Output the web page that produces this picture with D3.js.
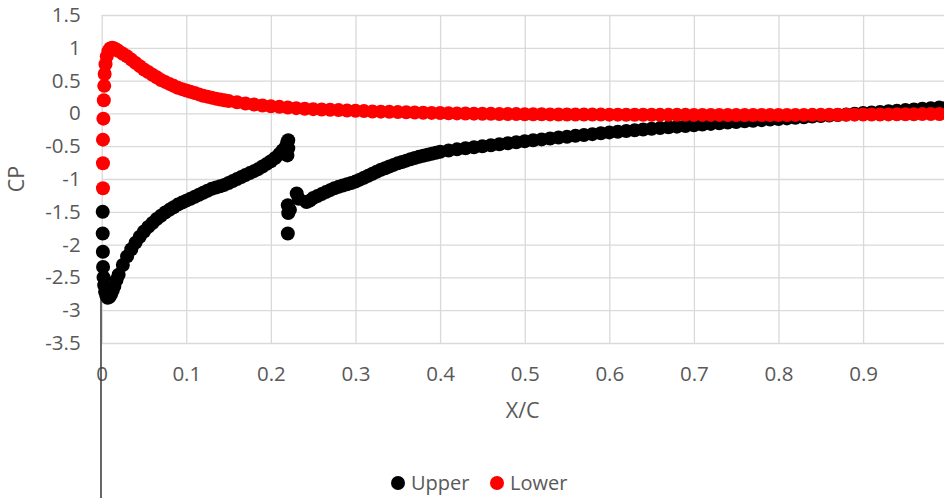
<!DOCTYPE html>
<html>
<head>
<meta charset="utf-8">
<script src="https://cdn.jsdelivr.net/npm/d3@7"></script>
<style>
  html, body { margin: 0; padding: 0; background: #fff; }
  svg { display: block; font-family: "Open Sans", "Noto Sans", sans-serif; }
</style>
</head>
<body>
<svg id="chart" width="944" height="498"></svg>
<script>
// Pressure coefficient along the chord: [x/c, Cp] for each surface
const upperPoints = [
  [0.0012,-1.50],[0.0012,-1.83],[0.0014,-2.11],[0.0016,-2.34],[0.0022,-2.50],[0.0030,-2.62],[0.0040,-2.72],[0.0055,-2.78],
  [0.0070,-2.81],[0.0090,-2.80],[0.011,-2.76],[0.013,-2.70],[0.015,-2.63],[0.0175,-2.54],[0.020,-2.46],[0.025,-2.31],
  [0.030,-2.18],[0.035,-2.07],[0.040,-1.97],[0.045,-1.88],[0.050,-1.80],[0.055,-1.73],[0.060,-1.67],[0.065,-1.61],
  [0.070,-1.56],[0.075,-1.51],[0.080,-1.47],[0.085,-1.43],[0.090,-1.39],[0.095,-1.36],[0.100,-1.33],[0.105,-1.30],
  [0.110,-1.27],[0.115,-1.24],[0.120,-1.21],[0.125,-1.18],[0.130,-1.15],[0.135,-1.13],[0.140,-1.11],[0.145,-1.09],
  [0.150,-1.06],[0.155,-1.03],[0.160,-1.00],[0.165,-0.97],[0.170,-0.94],[0.175,-0.91],[0.180,-0.88],[0.185,-0.85],
  [0.190,-0.81],[0.195,-0.77],[0.200,-0.73],[0.205,-0.68],[0.210,-0.62],[0.214,-0.56],[0.218,-0.50],[0.2195,-0.44],
  [0.2205,-0.41],[0.2205,-0.53],[0.2195,-0.64],
  [0.2200,-1.40],[0.2205,-1.52],[0.2200,-1.83],[0.2225,-1.47],[0.2305,-1.22],[0.2330,-1.30],[0.2420,-1.35],[0.2460,-1.33],
  [0.250,-1.29],[0.255,-1.26],[0.260,-1.23],[0.265,-1.20],[0.270,-1.17],[0.275,-1.14],[0.280,-1.12],[0.285,-1.10],
  [0.290,-1.08],[0.295,-1.06],[0.300,-1.04],[0.305,-1.01],[0.310,-0.98],[0.315,-0.95],[0.320,-0.92],[0.325,-0.89],
  [0.330,-0.86],[0.335,-0.835],[0.340,-0.81],[0.345,-0.785],[0.350,-0.76],[0.355,-0.74],[0.360,-0.72],[0.365,-0.70],
  [0.370,-0.68],[0.375,-0.66],[0.380,-0.645],[0.385,-0.63],[0.390,-0.615],[0.395,-0.60],[0.400,-0.585],[0.41,-0.565],
  [0.42,-0.548],[0.43,-0.531],[0.44,-0.515],[0.45,-0.50],[0.46,-0.485],[0.47,-0.47],[0.48,-0.455],[0.49,-0.44],
  [0.50,-0.425],[0.51,-0.41],[0.52,-0.396],[0.53,-0.382],[0.54,-0.368],[0.55,-0.355],[0.56,-0.342],[0.57,-0.329],
  [0.58,-0.316],[0.59,-0.303],[0.60,-0.29],[0.61,-0.279],[0.62,-0.268],[0.63,-0.257],[0.64,-0.246],[0.65,-0.235],
  [0.66,-0.224],[0.67,-0.213],[0.68,-0.202],[0.69,-0.191],[0.70,-0.18],[0.71,-0.17],[0.72,-0.16],[0.73,-0.15],
  [0.74,-0.14],[0.75,-0.13],[0.76,-0.121],[0.77,-0.112],[0.78,-0.103],[0.79,-0.094],[0.80,-0.085],[0.81,-0.076],
  [0.82,-0.067],[0.83,-0.058],[0.84,-0.049],[0.85,-0.04],[0.86,-0.032],[0.87,-0.024],[0.88,-0.015],[0.89,-0.005],
  [0.90,0.005],[0.91,0.014],[0.92,0.023],[0.93,0.032],[0.94,0.041],[0.95,0.05],[0.96,0.06],[0.97,0.07],
  [0.98,0.08],[0.99,0.09],[1.00,0.10]
];
const lowerPoints = [
  [0.0015,-1.14],[0.0015,-0.76],[0.0015,-0.40],[0.0020,-0.08],[0.0025,0.20],[0.0030,0.42],[0.0035,0.60],[0.0045,0.75],
  [0.006,0.87],[0.008,0.95],[0.010,0.99],[0.0125,1.00],[0.015,0.99],[0.0175,0.97],[0.020,0.95],[0.025,0.91],
  [0.030,0.87],[0.035,0.82],[0.040,0.77],[0.045,0.72],[0.050,0.67],[0.055,0.63],[0.060,0.59],[0.065,0.55],
  [0.070,0.51],[0.075,0.48],[0.080,0.45],[0.085,0.42],[0.090,0.39],[0.095,0.37],[0.100,0.35],[0.105,0.33],
  [0.110,0.31],[0.115,0.29],[0.120,0.27],[0.125,0.255],[0.130,0.24],[0.135,0.225],[0.140,0.21],[0.145,0.20],
  [0.150,0.19],[0.16,0.17],[0.17,0.15],[0.18,0.135],[0.19,0.12],[0.20,0.11],[0.21,0.10],[0.22,0.09],
  [0.23,0.08],[0.24,0.07],[0.25,0.065],[0.26,0.06],[0.27,0.055],[0.28,0.05],[0.29,0.045],[0.30,0.04],
  [0.31,0.035],[0.32,0.03],[0.33,0.027],[0.34,0.024],[0.35,0.02],[0.36,0.017],[0.37,0.014],[0.38,0.011],
  [0.39,0.008],[0.40,0.005],[0.41,0.002],[0.42,0.0],[0.43,-0.002],[0.44,-0.004],[0.45,-0.006],[0.46,-0.007],
  [0.47,-0.009],[0.48,-0.01],[0.49,-0.011],[0.50,-0.012],[0.51,-0.013],[0.52,-0.014],[0.53,-0.015],[0.54,-0.016],
  [0.55,-0.016],[0.56,-0.017],[0.57,-0.017],[0.58,-0.018],[0.59,-0.018],[0.60,-0.019],[0.61,-0.019],[0.62,-0.02],
  [0.63,-0.02],[0.64,-0.021],[0.65,-0.021],[0.66,-0.022],[0.67,-0.022],[0.68,-0.022],[0.69,-0.022],[0.70,-0.023],
  [0.71,-0.023],[0.72,-0.023],[0.73,-0.023],[0.74,-0.024],[0.75,-0.024],[0.76,-0.024],[0.77,-0.024],[0.78,-0.024],
  [0.79,-0.024],[0.80,-0.024],[0.81,-0.024],[0.82,-0.023],[0.83,-0.023],[0.84,-0.022],[0.85,-0.022],[0.86,-0.021],
  [0.87,-0.021],[0.88,-0.02],[0.89,-0.019],[0.90,-0.018],[0.91,-0.017],[0.92,-0.016],[0.93,-0.015],[0.94,-0.014],
  [0.95,-0.013],[0.96,-0.012],[0.97,-0.011],[0.98,-0.01],[0.99,-0.01],[1.00,-0.01]
];

const xTicks = [0,0.1,0.2,0.3,0.4,0.5,0.6,0.7,0.8,0.9,1];
const yTicks = [1.5,1,0.5,0,-0.5,-1,-1.5,-2,-2.5,-3,-3.5];
const seriesNames = ["Upper","Lower"];
const seriesColors = ["#000000","#ff0000"];

const svg = d3.select("#chart");
const W = 944, H = 498;
const plot = { left: 101.7, right: 947.7, top: 15, bottom: 343 };

const x = d3.scaleLinear().domain([0, 1]).range([plot.left, plot.right]);
const y = d3.scaleLinear().domain([-3.5, 1.5]).range([plot.bottom, plot.top]);

svg.append("rect").attr("width", W).attr("height", H).attr("fill", "#fff");

// gridlines
const gridColor = "#d9d9d9";
svg.append("g")
  .attr("transform", `translate(0,${plot.bottom})`)
  .call(d3.axisBottom(x).tickValues(xTicks).tickSize(-(plot.bottom - plot.top)).tickFormat(""))
  .call(g => g.select(".domain").remove())
  .call(g => g.selectAll("line").attr("stroke", gridColor).attr("stroke-width", 1.3));
svg.append("g")
  .attr("transform", `translate(${plot.left},0)`)
  .call(d3.axisLeft(y).tickValues(yTicks).tickSize(-(plot.right - plot.left)).tickFormat(""))
  .call(g => g.select(".domain").remove())
  .call(g => g.selectAll("line").attr("stroke", gridColor).attr("stroke-width", 1.3));

// tick labels
const labelColor = "#595959";
const tickFont = "20.5px";
svg.append("g")
  .attr("transform", `translate(${plot.left - 21},0)`)
  .call(d3.axisLeft(y).tickValues(yTicks).tickSize(0).tickPadding(0).tickFormat(d => String(d)))
  .call(g => g.select(".domain").remove())
  .call(g => g.selectAll("text").attr("fill", labelColor).style("font-size", tickFont).style("font-family", "'Open Sans', sans-serif"));
svg.append("g")
  .attr("transform", `translate(0,${plot.bottom + 23})`)
  .call(d3.axisBottom(x).tickValues(xTicks).tickSize(0).tickPadding(0).tickFormat(d => String(d)))
  .call(g => g.select(".domain").remove())
  .call(g => g.selectAll("text").attr("fill", labelColor).style("font-size", tickFont).style("font-family", "'Open Sans', sans-serif"));

// axis titles
svg.append("text")
  .attr("x", (plot.left + plot.right) / 2 - 2).attr("y", 418)
  .attr("text-anchor", "middle").attr("fill", labelColor)
  .style("font-size", "21.5px").text("X/C");
svg.append("text")
  .attr("transform", `translate(24,${(plot.top + plot.bottom) / 2}) rotate(-90)`)
  .attr("text-anchor", "middle").attr("fill", labelColor)
  .style("font-size", "21.5px").text("CP");

// vertical axis line at x = 0
svg.append("line")
  .attr("x1", x(0) - 0.7).attr("x2", x(0) - 0.7)
  .attr("y1", y(-2.5)).attr("y2", H)
  .attr("stroke", "#404040").attr("stroke-width", 1.6);

// markers
[upperPoints, lowerPoints].forEach((data, k) => {
  svg.append("g").selectAll("circle").data(data).join("circle")
    .attr("cx", d => x(d[0])).attr("cy", d => y(d[1])).attr("r", 7)
    .attr("fill", seriesColors[k]);
});

// legend
const legend = svg.append("g").attr("transform", "translate(398,483)");
const legendX = [0, 99];
seriesNames.forEach((name, i) => {
  const g = legend.append("g").attr("transform", `translate(${legendX[i]},0)`);
  g.append("circle").attr("r", 7).attr("fill", seriesColors[i]);
  g.append("text").attr("x", 13).attr("dy", "0.36em").attr("fill", labelColor)
    .style("font-size", "20px").text(name);
});
</script>
</body>
</html>
